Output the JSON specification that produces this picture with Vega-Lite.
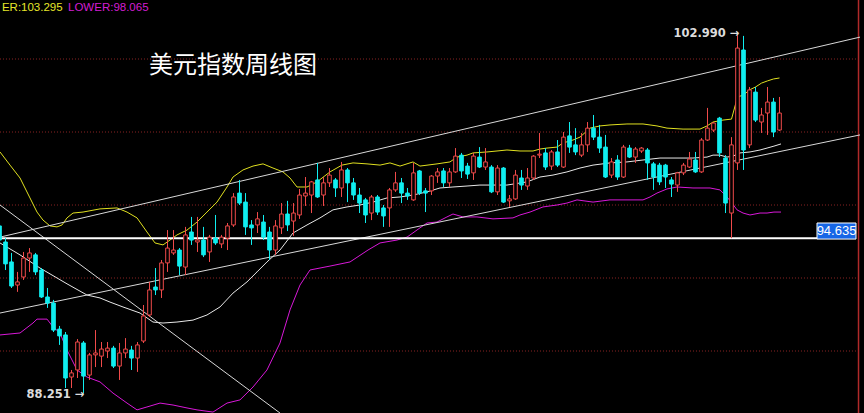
{
  "$schema": "https://vega.github.io/schema/vega-lite/v6.json",
  "width": 864,
  "height": 413,
  "autosize": {"type": "none"},
  "padding": 0,
  "background": "#000000",
  "config": {"view": {"stroke": null}, "scale": {"continuousPadding": 0}},
  "datasets": {
    "candles": [
      {"t":-1,"o":95.14,"h":95.30,"l":94.36,"c":94.56},
      {"t":0,"o":94.48,"h":94.64,"l":93.33,"c":93.58},
      {"t":1,"o":93.66,"h":94.03,"l":92.59,"c":92.67},
      {"t":2,"o":92.71,"h":93.25,"l":92.43,"c":92.84},
      {"t":3,"o":93.04,"h":94.07,"l":92.92,"c":93.82},
      {"t":4,"o":93.82,"h":94.23,"l":93.25,"c":94.03},
      {"t":5,"o":93.95,"h":94.03,"l":93.12,"c":93.25},
      {"t":6,"o":93.33,"h":93.41,"l":92.18,"c":92.22},
      {"t":7,"o":92.22,"h":92.59,"l":91.77,"c":91.97},
      {"t":8,"o":91.97,"h":92.10,"l":90.78,"c":90.86},
      {"t":9,"o":90.90,"h":91.03,"l":90.25,"c":90.62},
      {"t":10,"o":90.66,"h":90.78,"l":88.48,"c":88.89},
      {"t":11,"o":88.93,"h":89.22,"l":88.48,"c":89.10},
      {"t":12,"o":89.22,"h":90.49,"l":88.89,"c":90.37},
      {"t":13,"o":90.33,"h":90.41,"l":88.251,"c":88.97},
      {"t":14,"o":89.01,"h":89.92,"l":88.81,"c":89.84},
      {"t":15,"o":89.84,"h":90.86,"l":89.34,"c":89.92},
      {"t":16,"o":89.79,"h":90.37,"l":89.34,"c":90.08},
      {"t":17,"o":90.00,"h":90.37,"l":89.71,"c":90.12},
      {"t":18,"o":90.12,"h":90.21,"l":89.30,"c":89.38},
      {"t":19,"o":89.38,"h":90.33,"l":88.81,"c":89.92},
      {"t":20,"o":89.92,"h":90.53,"l":89.71,"c":90.08},
      {"t":21,"o":90.04,"h":90.21,"l":89.22,"c":89.71},
      {"t":22,"o":89.71,"h":90.37,"l":89.14,"c":90.25},
      {"t":23,"o":90.41,"h":91.89,"l":90.33,"c":91.44},
      {"t":24,"o":91.48,"h":92.84,"l":91.40,"c":92.51},
      {"t":25,"o":92.63,"h":93.41,"l":92.30,"c":92.51},
      {"t":26,"o":92.51,"h":93.74,"l":92.18,"c":93.62},
      {"t":27,"o":93.62,"h":94.97,"l":93.25,"c":94.23},
      {"t":28,"o":94.03,"h":94.97,"l":93.95,"c":94.15},
      {"t":29,"o":94.15,"h":94.23,"l":93.12,"c":93.49},
      {"t":30,"o":93.45,"h":95.10,"l":93.12,"c":94.77},
      {"t":31,"o":94.89,"h":95.51,"l":94.36,"c":94.56},
      {"t":32,"o":94.48,"h":95.51,"l":94.07,"c":94.56},
      {"t":33,"o":94.56,"h":95.10,"l":93.86,"c":93.95},
      {"t":34,"o":94.07,"h":94.77,"l":93.66,"c":94.68},
      {"t":35,"o":94.64,"h":95.59,"l":94.36,"c":94.44},
      {"t":36,"o":94.40,"h":94.77,"l":94.23,"c":94.68},
      {"t":37,"o":94.64,"h":95.26,"l":94.15,"c":95.14},
      {"t":38,"o":95.18,"h":96.49,"l":95.10,"c":96.33},
      {"t":39,"o":96.49,"h":97.03,"l":96.00,"c":96.08},
      {"t":40,"o":96.12,"h":96.49,"l":94.77,"c":95.10},
      {"t":41,"o":95.18,"h":95.38,"l":94.36,"c":95.06},
      {"t":42,"o":95.18,"h":95.71,"l":94.85,"c":95.43},
      {"t":43,"o":95.30,"h":95.59,"l":94.56,"c":94.68},
      {"t":44,"o":94.89,"h":95.10,"l":93.74,"c":94.15},
      {"t":45,"o":94.15,"h":95.38,"l":93.95,"c":95.14},
      {"t":46,"o":95.06,"h":96.08,"l":94.81,"c":95.63},
      {"t":47,"o":95.63,"h":96.17,"l":94.93,"c":95.18},
      {"t":48,"o":95.34,"h":96.08,"l":94.73,"c":95.67},
      {"t":49,"o":95.59,"h":96.66,"l":95.43,"c":96.41},
      {"t":50,"o":96.37,"h":97.15,"l":95.96,"c":96.49},
      {"t":51,"o":96.41,"h":96.99,"l":95.67,"c":96.95},
      {"t":52,"o":97.03,"h":97.73,"l":96.29,"c":96.33},
      {"t":53,"o":96.41,"h":97.15,"l":95.96,"c":96.91},
      {"t":54,"o":96.91,"h":97.52,"l":96.74,"c":97.23},
      {"t":55,"o":97.03,"h":97.11,"l":96.33,"c":96.70},
      {"t":56,"o":96.70,"h":97.77,"l":96.33,"c":97.44},
      {"t":57,"o":97.44,"h":97.52,"l":96.12,"c":96.91},
      {"t":58,"o":96.91,"h":97.11,"l":96.21,"c":96.41},
      {"t":59,"o":96.41,"h":96.70,"l":95.67,"c":96.08},
      {"t":60,"o":96.21,"h":96.29,"l":95.26,"c":95.59},
      {"t":61,"o":95.67,"h":96.41,"l":95.38,"c":96.33},
      {"t":62,"o":96.33,"h":96.41,"l":95.59,"c":95.71},
      {"t":63,"o":95.88,"h":96.00,"l":95.10,"c":95.55},
      {"t":64,"o":95.88,"h":96.70,"l":95.10,"c":96.62},
      {"t":65,"o":96.62,"h":97.36,"l":96.54,"c":96.91},
      {"t":66,"o":96.91,"h":97.11,"l":96.08,"c":96.49},
      {"t":67,"o":96.49,"h":96.70,"l":96.21,"c":96.37},
      {"t":68,"o":96.21,"h":97.73,"l":96.17,"c":97.32},
      {"t":69,"o":97.40,"h":97.44,"l":96.41,"c":96.49},
      {"t":70,"o":96.58,"h":96.70,"l":95.71,"c":96.49},
      {"t":71,"o":96.58,"h":97.23,"l":96.41,"c":97.19},
      {"t":72,"o":97.19,"h":97.52,"l":96.91,"c":97.36},
      {"t":73,"o":97.40,"h":97.52,"l":96.74,"c":96.91},
      {"t":74,"o":96.91,"h":97.52,"l":96.74,"c":97.36},
      {"t":75,"o":97.36,"h":98.34,"l":97.32,"c":98.01},
      {"t":76,"o":98.05,"h":98.14,"l":97.11,"c":97.40},
      {"t":77,"o":97.60,"h":97.73,"l":97.07,"c":97.27},
      {"t":78,"o":97.32,"h":98.14,"l":97.03,"c":98.01},
      {"t":79,"o":97.97,"h":98.38,"l":97.52,"c":97.56},
      {"t":80,"o":97.56,"h":98.34,"l":97.44,"c":97.77},
      {"t":81,"o":97.56,"h":97.64,"l":96.49,"c":96.54},
      {"t":82,"o":96.54,"h":97.64,"l":96.41,"c":97.52},
      {"t":83,"o":97.52,"h":97.56,"l":96.08,"c":96.12},
      {"t":84,"o":96.17,"h":96.41,"l":95.92,"c":96.25},
      {"t":85,"o":96.25,"h":97.44,"l":96.21,"c":97.23},
      {"t":86,"o":97.11,"h":97.44,"l":96.62,"c":96.82},
      {"t":87,"o":96.78,"h":97.52,"l":96.62,"c":97.11},
      {"t":88,"o":97.11,"h":98.05,"l":97.03,"c":98.01},
      {"t":89,"o":98.05,"h":98.96,"l":97.93,"c":98.09},
      {"t":90,"o":98.14,"h":98.34,"l":97.44,"c":97.56},
      {"t":91,"o":97.60,"h":98.26,"l":97.44,"c":98.18},
      {"t":92,"o":98.18,"h":98.67,"l":97.56,"c":97.64},
      {"t":93,"o":97.56,"h":99.00,"l":97.52,"c":98.79},
      {"t":94,"o":98.84,"h":99.41,"l":98.14,"c":98.38},
      {"t":95,"o":98.47,"h":99.16,"l":98.05,"c":98.18},
      {"t":96,"o":98.05,"h":98.96,"l":97.97,"c":98.47},
      {"t":97,"o":98.47,"h":99.41,"l":98.18,"c":99.16},
      {"t":98,"o":99.16,"h":99.70,"l":98.67,"c":98.79},
      {"t":99,"o":98.79,"h":99.29,"l":98.14,"c":98.34},
      {"t":100,"o":98.38,"h":98.88,"l":97.11,"c":97.15},
      {"t":101,"o":97.23,"h":97.93,"l":97.11,"c":97.77},
      {"t":102,"o":97.85,"h":98.05,"l":97.03,"c":97.15},
      {"t":103,"o":97.15,"h":98.47,"l":97.11,"c":98.38},
      {"t":104,"o":98.34,"h":98.47,"l":97.93,"c":97.97},
      {"t":105,"o":97.97,"h":98.38,"l":97.73,"c":98.30},
      {"t":106,"o":98.22,"h":98.38,"l":98.14,"c":98.34},
      {"t":107,"o":98.26,"h":98.34,"l":97.03,"c":97.73},
      {"t":108,"o":97.69,"h":97.77,"l":96.62,"c":97.15},
      {"t":109,"o":97.64,"h":97.73,"l":96.82,"c":96.95},
      {"t":110,"o":97.64,"h":97.69,"l":96.70,"c":97.15},
      {"t":111,"o":97.03,"h":97.15,"l":96.33,"c":96.86},
      {"t":112,"o":96.82,"h":97.36,"l":96.54,"c":97.32},
      {"t":113,"o":97.32,"h":97.73,"l":97.23,"c":97.64},
      {"t":114,"o":97.56,"h":98.18,"l":97.52,"c":97.89},
      {"t":115,"o":97.85,"h":98.18,"l":97.32,"c":97.36},
      {"t":116,"o":97.36,"h":98.75,"l":97.32,"c":98.67},
      {"t":117,"o":98.67,"h":99.99,"l":98.63,"c":99.16},
      {"t":118,"o":99.08,"h":99.41,"l":99.00,"c":99.37},
      {"t":119,"o":99.57,"h":99.62,"l":97.97,"c":98.14},
      {"t":120,"o":97.93,"h":98.05,"l":95.67,"c":96.08},
      {"t":121,"o":95.67,"h":98.79,"l":94.635,"c":98.47},
      {"t":122,"o":97.73,"h":102.99,"l":97.44,"c":102.45},
      {"t":123,"o":102.37,"h":102.95,"l":97.44,"c":98.26},
      {"t":124,"o":98.47,"h":100.85,"l":98.34,"c":100.73},
      {"t":125,"o":100.64,"h":100.85,"l":99.41,"c":99.49},
      {"t":126,"o":99.41,"h":99.99,"l":98.96,"c":99.70},
      {"t":127,"o":99.78,"h":100.85,"l":98.88,"c":100.23},
      {"t":128,"o":100.23,"h":100.40,"l":98.79,"c":99.00},
      {"t":129,"o":99.08,"h":100.44,"l":99.04,"c":99.78}
    ],
    "bands": [
      {"band":"upper","t":-0.92,"v":98.18},{"band":"upper","t":0.75,"v":97.64},{"band":"upper","t":2.42,"v":97.11},{"band":"upper","t":4.08,"v":96.29},{"band":"upper","t":5.25,"v":95.71},{"band":"upper","t":6.25,"v":95.38},{"band":"upper","t":7.42,"v":95.14},{"band":"upper","t":8.58,"v":95.10},{"band":"upper","t":9.42,"v":95.18},{"band":"upper","t":10.25,"v":95.47},{"band":"upper","t":11.25,"v":95.67},{"band":"upper","t":12.92,"v":95.71},{"band":"upper","t":15.75,"v":95.84},{"band":"upper","t":18.58,"v":95.88},{"band":"upper","t":20.25,"v":95.71},{"band":"upper","t":21.92,"v":95.47},{"band":"upper","t":23.58,"v":94.89},{"band":"upper","t":24.92,"v":94.44},{"band":"upper","t":26.25,"v":94.36},{"band":"upper","t":27.42,"v":94.56},{"band":"upper","t":28.58,"v":94.77},{"band":"upper","t":30.25,"v":94.97},{"band":"upper","t":31.92,"v":95.30},{"band":"upper","t":33.58,"v":95.71},{"band":"upper","t":35.25,"v":96.12},{"band":"upper","t":36.92,"v":96.74},{"band":"upper","t":37.92,"v":97.15},{"band":"upper","t":39.58,"v":97.44},{"band":"upper","t":41.25,"v":97.60},{"band":"upper","t":42.92,"v":97.69},{"band":"upper","t":44.58,"v":97.52},{"band":"upper","t":46.25,"v":97.36},{"band":"upper","t":47.42,"v":97.11},{"band":"upper","t":48.58,"v":96.74},{"band":"upper","t":50.25,"v":96.74},{"band":"upper","t":51.92,"v":96.95},{"band":"upper","t":54.08,"v":97.36},{"band":"upper","t":56.08,"v":97.64},{"band":"upper","t":57.92,"v":97.73},{"band":"upper","t":60.25,"v":97.69},{"band":"upper","t":62.42,"v":97.64},{"band":"upper","t":64.08,"v":97.73},{"band":"upper","t":65.75,"v":97.60},{"band":"upper","t":67.92,"v":97.77},{"band":"upper","t":69.08,"v":97.60},{"band":"upper","t":71.92,"v":97.69},{"band":"upper","t":74.08,"v":97.77},{"band":"upper","t":75.25,"v":97.97},{"band":"upper","t":76.92,"v":98.05},{"band":"upper","t":77.92,"v":98.14},{"band":"upper","t":80.25,"v":98.18},{"band":"upper","t":83.58,"v":98.26},{"band":"upper","t":85.75,"v":98.22},{"band":"upper","t":87.92,"v":98.22},{"band":"upper","t":89.08,"v":98.30},{"band":"upper","t":90.25,"v":98.34},{"band":"upper","t":91.92,"v":98.38},{"band":"upper","t":92.92,"v":98.55},{"band":"upper","t":94.58,"v":98.67},{"band":"upper","t":95.75,"v":98.79},{"band":"upper","t":97.42,"v":99.16},{"band":"upper","t":99.08,"v":99.25},{"band":"upper","t":100.75,"v":99.29},{"band":"upper","t":103.58,"v":99.33},{"band":"upper","t":106.25,"v":99.33},{"band":"upper","t":108.58,"v":99.25},{"band":"upper","t":110.25,"v":99.16},{"band":"upper","t":112.92,"v":99.12},{"band":"upper","t":115.75,"v":99.12},{"band":"upper","t":116.92,"v":99.25},{"band":"upper","t":117.92,"v":99.41},{"band":"upper","t":119.58,"v":99.49},{"band":"upper","t":121,"v":99.53},{"band":"upper","t":122,"v":100.44},{"band":"upper","t":123,"v":100.52},{"band":"upper","t":124,"v":100.73},{"band":"upper","t":125,"v":100.85},{"band":"upper","t":126,"v":101.01},{"band":"upper","t":127,"v":101.10},{"band":"upper","t":128,"v":101.18},{"band":"upper","t":129,"v":101.22},
      {"band":"mid","t":-0.92,"v":94.44},{"band":"mid","t":2.42,"v":93.95},{"band":"mid","t":5.75,"v":93.41},{"band":"mid","t":10.25,"v":92.76},{"band":"mid","t":13.58,"v":92.30},{"band":"mid","t":15.75,"v":92.18},{"band":"mid","t":17.42,"v":92.01},{"band":"mid","t":19.58,"v":91.81},{"band":"mid","t":22.42,"v":91.56},{"band":"mid","t":24.58,"v":91.19},{"band":"mid","t":26.25,"v":91.15},{"band":"mid","t":28.58,"v":91.19},{"band":"mid","t":31.25,"v":91.27},{"band":"mid","t":33.58,"v":91.48},{"band":"mid","t":35.75,"v":91.81},{"band":"mid","t":37.92,"v":92.38},{"band":"mid","t":40.25,"v":92.84},{"band":"mid","t":41.92,"v":93.25},{"band":"mid","t":43.58,"v":93.66},{"band":"mid","t":45.75,"v":94.15},{"band":"mid","t":47.92,"v":94.85},{"band":"mid","t":50.25,"v":95.18},{"band":"mid","t":52.42,"v":95.47},{"band":"mid","t":54.58,"v":95.80},{"band":"mid","t":56.92,"v":95.92},{"band":"mid","t":59.08,"v":96.00},{"band":"mid","t":61.25,"v":96.12},{"band":"mid","t":63.58,"v":96.29},{"band":"mid","t":65.75,"v":96.33},{"band":"mid","t":67.92,"v":96.41},{"band":"mid","t":70.25,"v":96.54},{"band":"mid","t":72.42,"v":96.70},{"band":"mid","t":74.58,"v":96.74},{"band":"mid","t":76.92,"v":96.78},{"band":"mid","t":79.08,"v":96.82},{"band":"mid","t":83.58,"v":96.82},{"band":"mid","t":86.92,"v":96.95},{"band":"mid","t":89.08,"v":97.15},{"band":"mid","t":91.25,"v":97.23},{"band":"mid","t":93.58,"v":97.36},{"band":"mid","t":95.75,"v":97.52},{"band":"mid","t":97.92,"v":97.64},{"band":"mid","t":100.75,"v":97.73},{"band":"mid","t":103.58,"v":97.77},{"band":"mid","t":106.25,"v":97.85},{"band":"mid","t":109.08,"v":97.93},{"band":"mid","t":114.58,"v":97.93},{"band":"mid","t":116.92,"v":97.97},{"band":"mid","t":117.92,"v":98.05},{"band":"mid","t":119.08,"v":98.05},{"band":"mid","t":120.25,"v":97.97},{"band":"mid","t":121.25,"v":98.01},{"band":"mid","t":122.42,"v":98.14},{"band":"mid","t":124.08,"v":98.18},{"band":"mid","t":125.75,"v":98.26},{"band":"mid","t":126.92,"v":98.34},{"band":"mid","t":128.08,"v":98.42},{"band":"mid","t":129.25,"v":98.51},
      {"band":"lower","t":-0.92,"v":90.66},{"band":"lower","t":2.42,"v":90.74},{"band":"lower","t":4.58,"v":91.15},{"band":"lower","t":5.25,"v":91.31},{"band":"lower","t":6.92,"v":91.31},{"band":"lower","t":7.92,"v":90.99},{"band":"lower","t":9.08,"v":90.74},{"band":"lower","t":10.25,"v":90.04},{"band":"lower","t":11.92,"v":89.22},{"band":"lower","t":13.58,"v":88.93},{"band":"lower","t":15.75,"v":88.73},{"band":"lower","t":17.92,"v":88.27},{"band":"lower","t":20.25,"v":87.86},{"band":"lower","t":21.92,"v":87.58},{"band":"lower","t":23.58,"v":87.70},{"band":"lower","t":25.75,"v":87.86},{"band":"lower","t":27.92,"v":87.78},{"band":"lower","t":30.25,"v":87.66},{"band":"lower","t":31.92,"v":87.58},{"band":"lower","t":34.58,"v":87.49},{"band":"lower","t":36.92,"v":87.86},{"band":"lower","t":39.08,"v":87.99},{"band":"lower","t":41.25,"v":88.52},{"band":"lower","t":43.58,"v":89.22},{"band":"lower","t":45.75,"v":90.33},{"band":"lower","t":47.42,"v":91.69},{"band":"lower","t":49.08,"v":92.71},{"band":"lower","t":50.75,"v":93.33},{"band":"lower","t":54.08,"v":93.49},{"band":"lower","t":57.42,"v":93.66},{"band":"lower","t":60.42,"v":94.15},{"band":"lower","t":62.42,"v":94.44},{"band":"lower","t":65.25,"v":94.56},{"band":"lower","t":66.92,"v":94.68},{"band":"lower","t":69.08,"v":95.06},{"band":"lower","t":70.25,"v":95.26},{"band":"lower","t":71.92,"v":95.30},{"band":"lower","t":73.58,"v":95.51},{"band":"lower","t":74.58,"v":95.63},{"band":"lower","t":76.25,"v":95.51},{"band":"lower","t":78.58,"v":95.51},{"band":"lower","t":81.25,"v":95.43},{"band":"lower","t":84.58,"v":95.47},{"band":"lower","t":85.75,"v":95.59},{"band":"lower","t":87.42,"v":95.71},{"band":"lower","t":89.58,"v":95.92},{"band":"lower","t":91.92,"v":96.00},{"band":"lower","t":93.58,"v":96.08},{"band":"lower","t":95.25,"v":96.21},{"band":"lower","t":97.92,"v":96.12},{"band":"lower","t":100.75,"v":96.21},{"band":"lower","t":106.25,"v":96.21},{"band":"lower","t":107.42,"v":96.33},{"band":"lower","t":108.58,"v":96.49},{"band":"lower","t":110.25,"v":96.66},{"band":"lower","t":111.92,"v":96.74},{"band":"lower","t":114.58,"v":96.70},{"band":"lower","t":117.42,"v":96.70},{"band":"lower","t":119.08,"v":96.62},{"band":"lower","t":120.25,"v":96.33},{"band":"lower","t":121.08,"v":96.08},{"band":"lower","t":121.92,"v":95.80},{"band":"lower","t":122.92,"v":95.67},{"band":"lower","t":124.08,"v":95.59},{"band":"lower","t":125.75,"v":95.67},{"band":"lower","t":126.92,"v":95.67},{"band":"lower","t":128.08,"v":95.71},{"band":"lower","t":129.25,"v":95.71}
    ],
    "trend": [
      {"id":"channel_top","t":-0.92,"v":94.68},{"id":"channel_top","t":142.42,"v":102.90},
      {"id":"channel_bottom","t":-0.92,"v":91.56},{"id":"channel_bottom","t":142.42,"v":98.88},
      {"id":"down","t":-0.92,"v":96.00},{"id":"down","t":45.75,"v":87.45}
    ],
    "grid": [{"v":90},{"v":93},{"v":96},{"v":99},{"v":102}],
    "one": [{}]
  },
  "layer": [
    {
      "data": {"name": "grid"},
      "mark": {"type": "rule", "stroke": "#8c2424", "strokeWidth": 1, "strokeDash": [1, 2]},
      "encoding": {
        "y": {"field": "v", "type": "quantitative", "scale": {"domain": [87.452, 104.425], "nice": false, "zero": false, "padding": 0}, "axis": null},
        "x": {"datum": -0.92, "type": "quantitative", "scale": {"domain": [-0.9167, 143.0833], "nice": false, "zero": false, "padding": 0}, "axis": null},
        "x2": {"datum": 142.17}
      }
    },
    {
      "data": {"name": "one"},
      "mark": {"type": "rule", "stroke": "#b02a2a", "strokeWidth": 1.5},
      "encoding": {
        "x": {"datum": 142.17, "type": "quantitative"}
      }
    },
    {
      "data": {"name": "bands"},
      "mark": {"type": "line", "strokeWidth": 1, "clip": true},
      "encoding": {
        "x": {"field": "t", "type": "quantitative"},
        "y": {"field": "v", "type": "quantitative"},
        "color": {"field": "band", "type": "nominal", "scale": {"domain": ["upper", "mid", "lower"], "range": ["#e0e020", "#e8e8e8", "#d818d8"]}, "legend": null}
      }
    },
    {
      "data": {"name": "trend"},
      "mark": {"type": "line", "strokeWidth": 1, "color": "#d8d8d8", "clip": true},
      "encoding": {
        "x": {"field": "t", "type": "quantitative"},
        "y": {"field": "v", "type": "quantitative"},
        "detail": {"field": "id", "type": "nominal"}
      }
    },
    {
      "data": {"name": "one"},
      "mark": {"type": "rule", "stroke": "#ffffff", "strokeWidth": 2},
      "encoding": {
        "y": {"datum": 94.635, "type": "quantitative"},
        "x": {"datum": -0.92, "type": "quantitative"},
        "x2": {"datum": 135.25}
      }
    },
    {
      "data": {"name": "candles"},
      "mark": {"type": "rule", "strokeWidth": 1},
      "encoding": {
        "x": {"field": "t", "type": "quantitative"},
        "y": {"field": "h", "type": "quantitative"},
        "y2": {"field": "l"},
        "color": {"condition": {"test": "datum.c >= datum.o", "value": "#f04a4a"}, "value": "#10eef0"}
      }
    },
    {
      "data": {"name": "candles"},
      "mark": {"type": "bar", "size": 3.6, "strokeWidth": 1, "orient": "vertical"},
      "encoding": {
        "x": {"field": "t", "type": "quantitative"},
        "y": {"field": "o", "type": "quantitative"},
        "y2": {"field": "c"},
        "fill": {"condition": {"test": "datum.c >= datum.o", "value": "#000000"}, "value": "#10eef0"},
        "stroke": {"condition": {"test": "datum.c >= datum.o", "value": "#f04a4a"}, "value": "#10eef0"}
      }
    },
    {
      "data": {"name": "one"},
      "mark": {"type": "rect", "fill": "#1666e6", "stroke": "#ffffff", "strokeWidth": 1},
      "encoding": {
        "x": {"datum": 135.25, "type": "quantitative"},
        "x2": {"datum": 141.75},
        "y": {"datum": 95.26, "type": "quantitative"},
        "y2": {"datum": 94.60}
      }
    },
    {
      "data": {"name": "one"},
      "mark": {"type": "text", "text": "94.635", "font": "Liberation Sans", "fontSize": 13, "color": "#ffffff", "align": "center", "baseline": "middle"},
      "encoding": {
        "x": {"datum": 138.5, "type": "quantitative"},
        "y": {"datum": 94.93, "type": "quantitative"}
      }
    },
    {
      "data": {"name": "one"},
      "mark": {"type": "text", "text": "美元指数周线图", "font": "Noto Sans CJK SC", "fontSize": 24, "color": "#ffffff", "align": "center", "baseline": "middle"},
      "encoding": {
        "x": {"datum": 37.9, "type": "quantitative"},
        "y": {"datum": 101.71, "type": "quantitative"}
      }
    },
    {
      "data": {"name": "one"},
      "mark": {"type": "text", "text": "102.990 →", "font": "DejaVu Sans", "fontWeight": "bold", "fontSize": 11.5, "color": "#dcdcdc", "align": "right", "baseline": "middle", "dx": 2, "dy": -1},
      "encoding": {
        "x": {"datum": 122, "type": "quantitative"},
        "y": {"datum": 102.99, "type": "quantitative"}
      }
    },
    {
      "data": {"name": "one"},
      "mark": {"type": "text", "text": "88.251 →", "font": "DejaVu Sans", "fontWeight": "bold", "fontSize": 11.5, "color": "#dcdcdc", "align": "right", "baseline": "middle", "dx": 1, "dy": 1},
      "encoding": {
        "x": {"datum": 13, "type": "quantitative"},
        "y": {"datum": 88.251, "type": "quantitative"}
      }
    },
    {
      "data": {"name": "one"},
      "mark": {"type": "text", "text": "ER:103.295", "font": "Liberation Sans", "fontSize": 11.5, "color": "#e6e62a", "align": "left", "baseline": "top"},
      "encoding": {
        "x": {"datum": -0.6, "type": "quantitative"},
        "y": {"datum": 104.33, "type": "quantitative"}
      }
    },
    {
      "data": {"name": "one"},
      "mark": {"type": "text", "text": "LOWER:98.065", "font": "Liberation Sans", "fontSize": 11.5, "color": "#d21ed2", "align": "left", "baseline": "top"},
      "encoding": {
        "x": {"datum": 10.42, "type": "quantitative"},
        "y": {"datum": 104.33, "type": "quantitative"}
      }
    }
  ]
}
